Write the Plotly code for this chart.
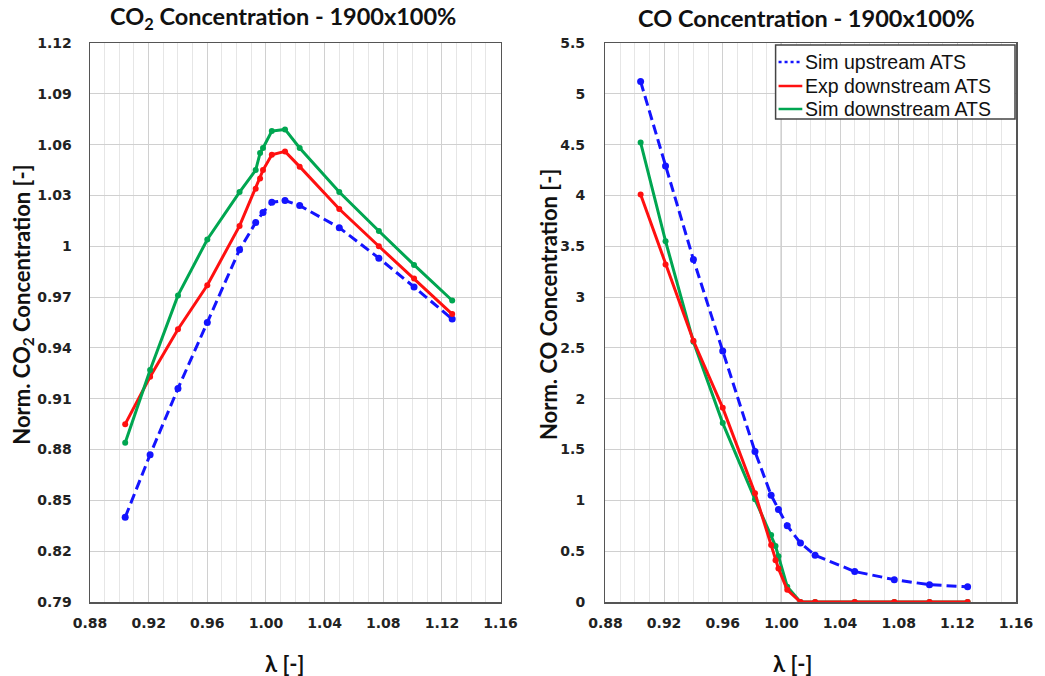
import plotly.graph_objects as go

# ---- data ----
lam_up = [0.904, 0.921, 0.940, 0.960, 0.982, 0.993, 0.998, 1.004, 1.013, 1.023, 1.050, 1.077, 1.101, 1.127]
lam_down = [0.904, 0.921, 0.940, 0.960, 0.982, 0.993, 0.996, 0.998, 1.004, 1.013, 1.023, 1.050, 1.077, 1.101, 1.127]

co2_sim_up = [0.840, 0.877, 0.916, 0.955, 0.998, 1.014, 1.020, 1.026, 1.027, 1.024, 1.011, 0.993, 0.976, 0.957]
co2_exp_down = [0.895, 0.923, 0.951, 0.977, 1.012, 1.034, 1.040, 1.045, 1.054, 1.056, 1.047, 1.022, 1.000, 0.981, 0.960]
co2_sim_down = [0.884, 0.927, 0.971, 1.004, 1.032, 1.045, 1.055, 1.058, 1.068, 1.069, 1.058, 1.032, 1.009, 0.989, 0.968]

co_sim_up = [5.12, 4.29, 3.37, 2.47, 1.48, 1.05, 0.91, 0.75, 0.58, 0.46, 0.30, 0.22, 0.17, 0.15]
co_exp_down = [4.01, 3.32, 2.57, 1.91, 1.07, 0.56, 0.41, 0.33, 0.12, 0.0, 0.0, 0.0, 0.0, 0.0, 0.0]
co_sim_down = [4.52, 3.55, 2.56, 1.76, 1.01, 0.66, 0.55, 0.45, 0.15, 0.0, 0.0, 0.0, 0.0, 0.0, 0.0]

x_ticks = [0.88, 0.92, 0.96, 1.00, 1.04, 1.08, 1.12, 1.16]
x_ticktext = ["0.88", "0.92", "0.96", "1.00", "1.04", "1.08", "1.12", "1.16"]
co2_ticks = [0.79, 0.82, 0.85, 0.88, 0.91, 0.94, 0.97, 1.00, 1.03, 1.06, 1.09, 1.12]
co2_ticktext = ["0.79", "0.82", "0.85", "0.88", "0.91", "0.94", "0.97", "1", "1.03", "1.06", "1.09", "1.12"]
co_ticks = [0, 0.5, 1, 1.5, 2, 2.5, 3, 3.5, 4, 4.5, 5, 5.5]
co_ticktext = ["0", "0.5", "1", "1.5", "2", "2.5", "3", "3.5", "4", "4.5", "5", "5.5"]

names = ["Sim upstream ATS", "Exp downstream ATS", "Sim downstream ATS"]

BLUE = "#1414ff"
RED = "#ff1010"
GREEN = "#00a651"

# page geometry (body margin removed in the page, so figure = window)
W, H = 1045, 676
ML, MR, MT, MB = 90, 19, 43, 74
PW = W - ML - MR   # 936
PH = H - MT - MB   # 559


def px(xr):
    """reference-image x pixel -> paper x"""
    return (xr - ML) / PW


def py(yr):
    """reference-image y pixel -> paper y"""
    return (H - MB - yr) / PH


fig = go.Figure()


def add_series(x, y, color, dash, xa, ya, msize=6):
    fig.add_trace(go.Scatter(
        x=x, y=y, mode="lines+markers", xaxis=xa, yaxis=ya, showlegend=False,
        line=dict(color=color, width=3, dash=dash),
        marker=dict(color=color, size=msize, symbol="circle")))


# left: CO2
add_series(lam_up, co2_sim_up, BLUE, "10px,5px", "x", "y", 7)
add_series(lam_down, co2_exp_down, RED, "solid", "x", "y")
add_series(lam_down, co2_sim_down, GREEN, "solid", "x", "y")
# right: CO
add_series(lam_up, co_sim_up, BLUE, "10px,5px", "x2", "y2", 7)
add_series(lam_down, co_sim_down, GREEN, "solid", "x2", "y2")
add_series(lam_down, co_exp_down, RED, "solid", "x2", "y2")

tickfont = dict(family="DejaVu Sans", size=14, color="#222222", weight="bold")
axis_common = dict(
    showline=True, mirror=True, linecolor="#555555", linewidth=1.5,
    showgrid=True, gridcolor="#d0d0d0", gridwidth=1, zeroline=False,
    ticks="", tickfont=tickfont, ticklabelstandoff=8,
)
xa_common = dict(axis_common, range=[0.88, 1.16], tickvals=x_ticks, ticktext=x_ticktext,
                 minor=dict(tickmode="linear", tick0=0.88, dtick=0.01, showgrid=True,
                            gridcolor="#e6e6e6", gridwidth=1, ticks=""))

# manual legend (box, line samples, labels)
leg_rows = [62, 86, 109]
leg_dash = ["dot", "solid", "solid"]
leg_cols = [BLUE, RED, GREEN]
shapes = [dict(type="line", xref="x2", yref="y2", x0=1.0, x1=1.0, y0=0, y1=5.5,
               line=dict(color="#707070", width=1.2), layer="below"),
          dict(type="rect", xref="paper", yref="paper", x0=px(783), x1=px(1025),
               y0=py(119), y1=py(45), fillcolor="white",
               line=dict(color="#444444", width=1.5), layer="above")]
for yr, dsh, col in zip(leg_rows, leg_dash, leg_cols):
    shapes.append(dict(type="line", xref="paper", yref="paper", x0=px(786), x1=px(810),
                       y0=py(yr), y1=py(yr), line=dict(color=col, width=2.5, dash=dsh),
                       layer="above"))

fig.update_layout(
    width=W, height=H,
    margin=dict(l=ML, r=MR, t=MT, b=MB),
    paper_bgcolor="white", plot_bgcolor="white",
    showlegend=False,
    xaxis=dict(xa_common, domain=[0, px(505)], anchor="y"),
    yaxis=dict(axis_common, range=[0.79, 1.12], tickvals=co2_ticks, ticktext=co2_ticktext,
               anchor="x", ticklabelstandoff=14),
    xaxis2=dict(xa_common, domain=[px(611), 1], anchor="y2"),
    yaxis2=dict(axis_common, range=[0, 5.5], tickvals=co_ticks, ticktext=co_ticktext,
                anchor="x2", ticklabelstandoff=16),
    shapes=shapes,
)

title_font = dict(family="Lato", size=23.5, color="#111111", weight="bold")
lab_font = dict(family="Lato", size=22, color="#111111", weight="bold")
leg_font = dict(family="Liberation Sans", size=19.5, color="#111111")
annots = [
    dict(text="CO<sub>2</sub> Concentration - 1900x100%", x=px(285), y=py(18), font=title_font),
    dict(text="CO Concentration - 1900x100%", x=px(814), y=py(18), font=title_font),
    dict(text="Norm. CO<sub>2</sub> Concentration [-]", x=px(22), y=py(305),
         textangle=-90, font=lab_font),
    dict(text="Norm. CO Concentration [-]", x=px(553), y=py(305),
         textangle=-90, font=lab_font),
    dict(text="λ [-]", x=px(287), y=py(663), font=lab_font),
    dict(text="λ [-]", x=px(800), y=py(663), font=lab_font),
]
for a in annots:
    fig.add_annotation(xref="paper", yref="paper", showarrow=False,
                       xanchor="center", yanchor="middle", **a)
for yr, nm in zip(leg_rows, names):
    fig.add_annotation(xref="paper", yref="paper", showarrow=False, x=px(811), y=py(yr),
                       xanchor="left", yanchor="middle", text=nm, font=leg_font)

fig.write_html(
    "out.html",
    config={"displayModeBar": False, "staticPlot": True},
    post_script="document.body.style.margin='0px';"
                "document.documentElement.style.overflow='hidden';"
                "document.body.style.overflow='hidden';",
)
